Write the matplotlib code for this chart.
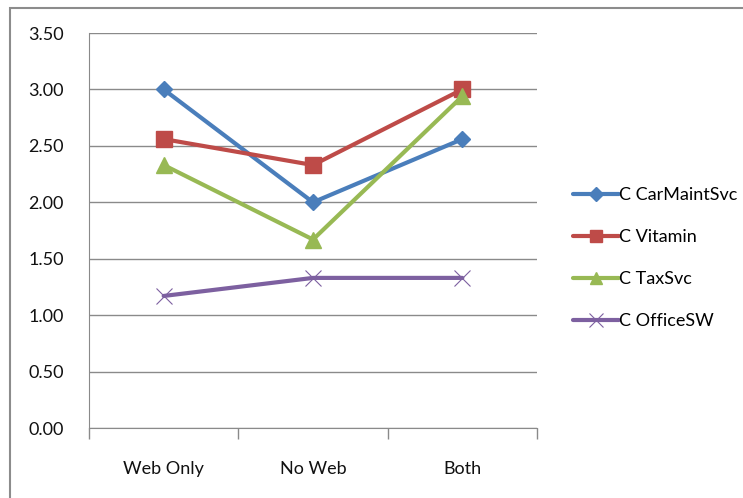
import matplotlib
matplotlib.use("Agg")
import matplotlib.pyplot as plt
from matplotlib.patches import Rectangle

categories = ["Web Only", "No Web", "Both"]
car_maint = [3.00, 2.00, 2.56]
vitamin = [2.56, 2.33, 3.00]
tax_svc = [2.33, 1.67, 2.94]
office_sw = [1.17, 1.33, 1.33]
series_names = ["C CarMaintSvc", "C Vitamin", "C TaxSvc", "C OfficeSW"]
y_ticks = [0.0, 0.5, 1.0, 1.5, 2.0, 2.5, 3.0, 3.5]

plt.rcParams["font.family"] = ["Lato", "DejaVu Sans"]

W, H = 743, 498
fig = plt.figure(figsize=(W / 100, H / 100), dpi=100)
fig.patch.set_facecolor("white")

# outer chart border (runs off the right and bottom edges)
fig.add_artist(Rectangle((10 / W, -0.05), 1.1, (H - 8) / H + 0.05,
                         transform=fig.transFigure, fill=False,
                         edgecolor="#8c8c8c", linewidth=1.5))

left, right, top, bottom = 89, 537, 33, 428
ax = fig.add_axes([left / W, 1 - bottom / H, (right - left) / W, (bottom - top) / H])
ax.set_facecolor("none")

x = list(range(len(categories)))
styles = [
    (car_maint, "#4A7EBB", "D", 8, 0),
    (vitamin, "#BE4B48", "s", 11, 0),
    (tax_svc, "#98B954", "^", 11, 0),
    (office_sw, "#7D60A0", "x", 12, 0.8),
]
for (vals, col, mk, ms, mew), name in zip(styles, series_names):
    kw = dict(markeredgewidth=mew) if mk == "x" else dict(markeredgecolor=col)
    ax.plot(x, vals, color=col, linewidth=3, marker=mk, markersize=ms,
            markerfacecolor=col, label=name, solid_capstyle="round", **kw)

ax.set_xlim(-0.5, len(categories) - 0.5)
ax.set_ylim(0, 3.5)
ax.set_yticks(y_ticks)
ax.set_yticklabels([f"{v:.2f}" for v in y_ticks])
ax.yaxis.grid(True, color="#8a8a8a", linewidth=1)
ax.set_axisbelow(True)
for s in ["top", "right"]:
    ax.spines[s].set_visible(False)
ax.spines["left"].set_color("#8a8a8a")
ax.spines["bottom"].set_color("#8a8a8a")
ax.tick_params(axis="y", length=0, pad=18, labelsize=13, colors="#111111")
ax.set_xticks(x)
ax.set_xticklabels(categories)
ax.tick_params(axis="x", length=0, pad=24, labelsize=13, colors="#111111")
ax.set_xticks([i - 0.5 for i in range(len(categories) + 1)], minor=True)
ax.tick_params(axis="x", which="minor", length=8, color="#8a8a8a", width=1)

leg = ax.legend(loc="center left", bbox_to_anchor=(1.045, 0.43), frameon=False,
                fontsize=13, handlelength=2.5, handletextpad=0.0,
                labelspacing=1.45, markerscale=0.85)

fig.savefig("out.png", dpi=100)
